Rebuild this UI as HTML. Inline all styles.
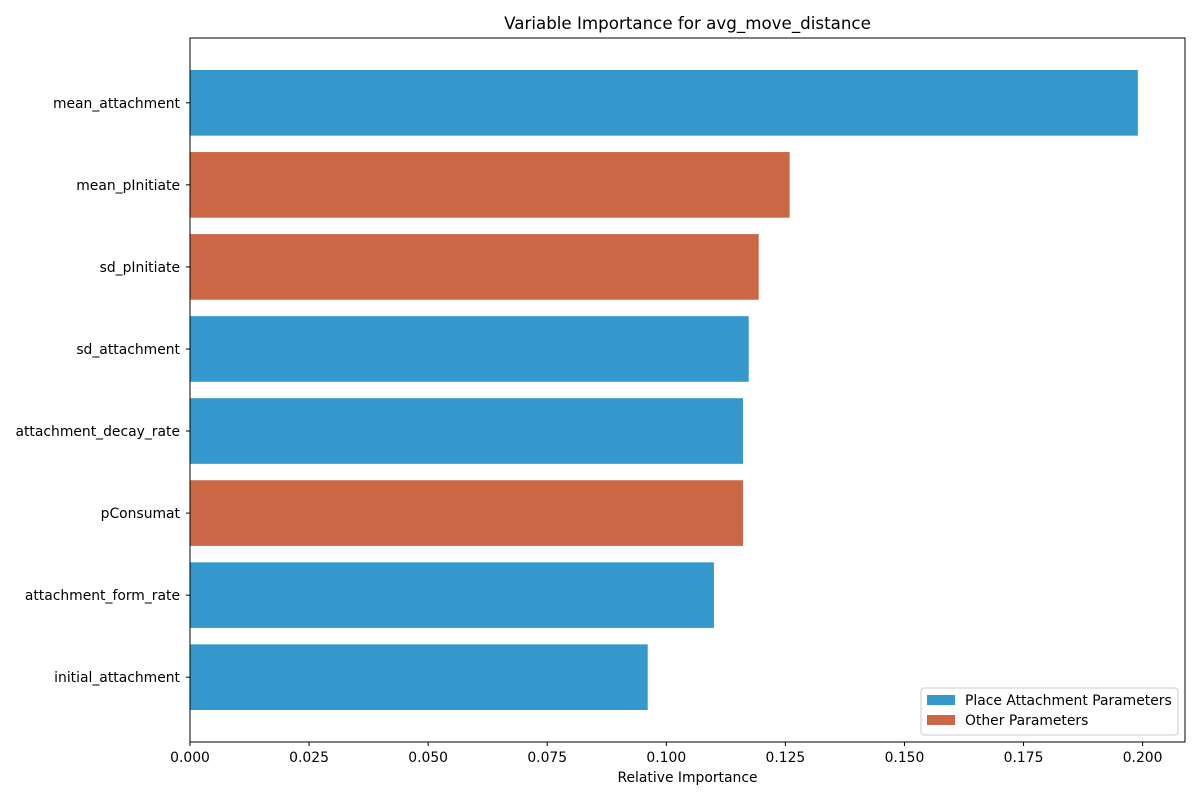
<!DOCTYPE html>
<html><head><meta charset="utf-8"><style>
body{margin:0;background:#fff;font-family:"DejaVu Sans","Liberation Sans",sans-serif}
svg text{font-family:"DejaVu Sans","Liberation Sans",sans-serif}
</style></head><body>
<svg id="chart" width="1200" height="800" xmlns="http://www.w3.org/2000/svg"></svg>
<script>
const categories=["mean_attachment","mean_pInitiate","sd_pInitiate","sd_attachment","attachment_decay_rate","pConsumat","attachment_form_rate","initial_attachment"];
const values=[0.1990,0.1259,0.1194,0.1173,0.1161,0.1161,0.1100,0.0961];
const groups=["place","other","other","place","place","other","place","place"];
const xTicks=[0,0.025,0.05,0.075,0.1,0.125,0.15,0.175,0.2];
const xTickLabels=["0.000","0.025","0.050","0.075","0.100","0.125","0.150","0.175","0.200"];
const legendLabels=["Place Attachment Parameters","Other Parameters"];
const colors={place:"#3498cc",other:"#cc6745"};
const L=190,R=1185,T=38,B=742;
const xMax=0.2089;
const x=v=>L+v/xMax*(R-L);
const n=categories.length;
const yMin=-0.4-0.39,yMax=n-1+0.4+0.39;
const y=i=>T+(i-yMin)/(yMax-yMin)*(B-T);
const bandPx=(B-T)/(yMax-yMin);
const svg=document.getElementById('chart');
const NS="http://www.w3.org/2000/svg";
function mk(tag,attrs,parent){const e=document.createElementNS(NS,tag);for(const k in attrs)e.setAttribute(k,attrs[k]);(parent||svg).appendChild(e);return e;}
categories.forEach((c,i)=>{
  const r=mk('rect',{x:L,y:y(i)-0.4*bandPx,width:x(values[i])-L,height:0.8*bandPx,fill:colors[groups[i]]});
  
  
  const tk=mk('line',{x1:L-4,x2:L,y1:y(i),y2:y(i),stroke:'#000'});
  
  
  const t=mk('text',{x:L-10,y:y(i)+5,'text-anchor':'end','font-size':13.9});
  t.textContent=c;
  
  
});
const frame=mk('rect',{x:L,y:T,width:R-L,height:B-T,fill:'none',stroke:'#000'});


xTicks.forEach((v,i)=>{
  const tk=mk('line',{x1:x(v),x2:x(v),y1:B,y2:B+4,stroke:'#000'});
  
  
  const t=mk('text',{x:x(v),y:B+20,'text-anchor':'middle','font-size':13.9});
  t.textContent=xTickLabels[i];
  
  
});
const xt=mk('text',{x:(L+R)/2,y:782,'text-anchor':'middle','font-size':13.9});
xt.textContent='Relative Importance';


const title=mk('text',{x:(L+R)/2,y:29,'text-anchor':'middle','font-size':16.7});
title.textContent='Variable Importance for avg_move_distance';


const lg=mk('g',{});


mk('rect',{x:921,y:688,width:257,height:47,rx:3,fill:'#fff',stroke:'#ccc'},lg);
legendLabels.forEach((lab,i)=>{
  const sw=mk('rect',{x:927,y:695+i*20,width:28,height:10,fill:i===0?colors.place:colors.other},lg);
  
  
  const t=mk('text',{x:965,y:705+i*20,'font-size':13.9},lg);
  t.textContent=lab;
  
  
});
</script>
</body></html>
